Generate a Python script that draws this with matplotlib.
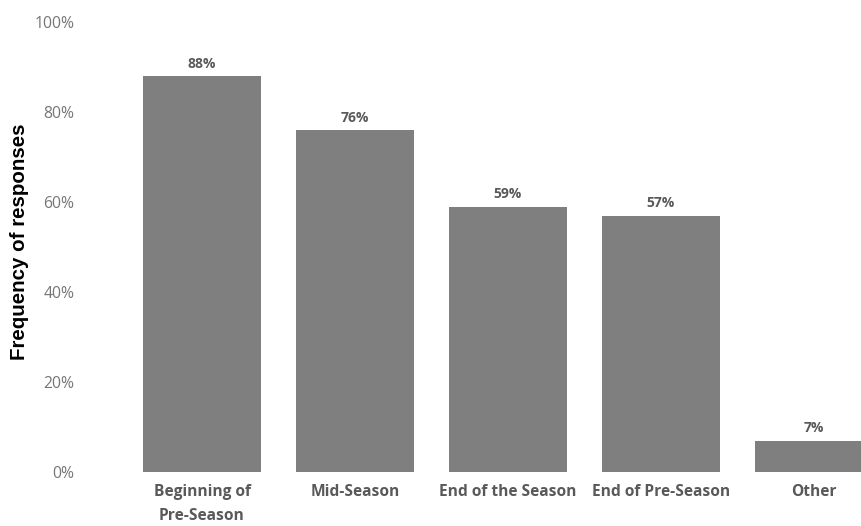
import matplotlib.pyplot as plt
from matplotlib.ticker import PercentFormatter

# categories and share of responses
categories = ['Beginning of\nPre-Season', 'Mid-Season', 'End of the Season',
              'End of Pre-Season', 'Other']
values = [0.88, 0.76, 0.59, 0.57, 0.07]
value_labels = ['88%', '76%', '59%', '57%', '7%']
y_ticks = [0, 0.2, 0.4, 0.6, 0.8, 1.0]

fig = plt.figure(figsize=(8.62, 5.26), dpi=100)
ax = fig.add_axes([80 / 862, 54 / 526, 782 / 862, 450 / 526])

x = list(range(len(categories)))
bars = ax.bar(x, values, width=0.77, color='#7f7f7f', edgecolor='none')

# value labels above the bars
for xi, v, lab in zip(x, values, value_labels):
    ax.text(xi, v + 0.012, lab, ha='center', va='bottom', fontsize=10,
            fontweight='bold', color='#595959', family='Open Sans')

ax.set_xlim(-(202 - 80) / 153, (862 - 202) / 153)
ax.set_ylim(0, 1.0)
ax.set_yticks(y_ticks)
ax.yaxis.set_major_formatter(PercentFormatter(1.0, decimals=0))
ax.set_xticks(x)
ax.set_xticklabels(categories, fontsize=11.2, fontweight='bold', color='#595959',
                   family='Open Sans', linespacing=1.6)

for lab in ax.get_yticklabels():
    lab.set_fontsize(11.3)
    lab.set_color('#767676')
    lab.set_family('Open Sans')

ax.tick_params(axis='both', length=0)
ax.tick_params(axis='y', pad=4)
ax.tick_params(axis='x', pad=9)
for s in ax.spines.values():
    s.set_visible(False)

# y axis title placed in figure pixels so it stays inside the canvas
fig.text(20 / 862, 284 / 526, 'Frequency of responses', rotation=90,
         ha='center', va='center', fontsize=14.8, fontweight='bold',
         color='black', family='Liberation Sans')

fig.savefig('out.png', dpi=100)
